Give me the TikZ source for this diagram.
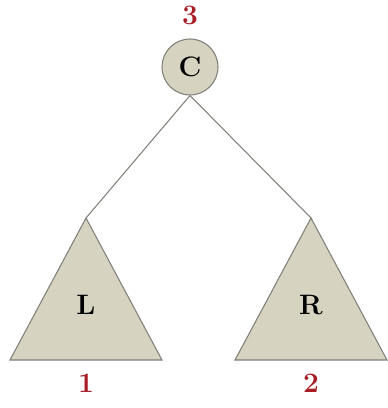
\documentclass[tikz,border=0pt]{standalone}
\usetikzlibrary{positioning}
\definecolor{nodefill}{RGB}{214,211,192}
\definecolor{edgegray}{RGB}{128,128,122}
\definecolor{ordred}{RGB}{168,28,36}

\begin{document}
\begin{tikzpicture}[x=0.02cm,y=-0.02cm,font=\fontsize{16}{18}\selectfont\bfseries,line width=0.6pt,
  vertex/.style={circle,draw=edgegray,fill=nodefill,minimum size=1.12cm,inner sep=0pt},
  subtree/.style={draw=edgegray,fill=nodefill,line join=miter},
  order/.style={text=ordred}]
\useasboundingbox (0,0) rectangle (387,408);
\node[vertex] (c) at (190,67) {C};
\node[order] (n3) at (190,15) {3};
\foreach \s/\lab/\x/\num in {l/L/86/1,r/R/311/2}{
  \coordinate (\s top) at (\x,218);
  \draw[subtree] (\s top) -- (\x-76,360) -- (\x+76,360) -- cycle;
  \node (\s) at (\x,305) {\lab};
  \node[order] (n\num) at (\x,383) {\num};
}
\draw[edgegray] (c.south) -- (ltop) (c.south) -- (rtop);
\end{tikzpicture}
\end{document}
